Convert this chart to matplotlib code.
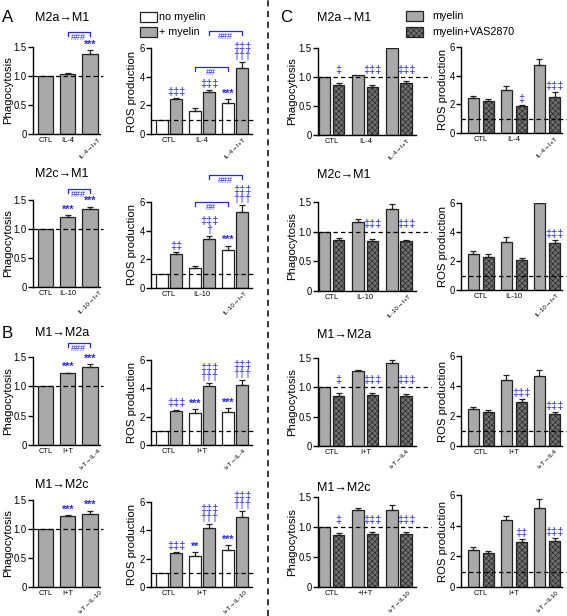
import matplotlib
matplotlib.use("Agg")
import matplotlib.pyplot as plt
import matplotlib.patches as mpatches
from matplotlib.lines import Line2D
from matplotlib import font_manager
import numpy as np

W, H = 567, 616
names = {f.name for f in font_manager.fontManager.ttflist}
NARROW = "Liberation Sans Narrow" in names
FAM = (["Liberation Sans Narrow"] if NARROW else []) + ["Liberation Sans", "DejaVu Sans"]
K = 1.0 if NARROW else 0.86
plt.rcParams.update({"font.family": FAM, "hatch.linewidth": 0.45, "axes.linewidth": 1.0})

BLUE = "#2626e8"
LIGHT = "#a9a9a9"
DARK = "#707070"
EDGE = "#222222"

# ---------------------------------------------------------------- data
titles = ["M2a→M1", "M2c→M1", "M1→M2a", "M1→M2c"]
lab_ab = [["CTL", "IL-4", "IL-4→I+T"], ["CTL", "IL-10", "IL-10→I+T"],
          ["CTL", "I+T", "I+T→IL-4"], ["CTL", "I+T", "I+T→IL-10"]]
lab_c_phag = [["CTL", "IL-4", "IL-4→I+T"], ["CTL", "IL-10", "IL-10→I+T"],
              ["CTL", "I+T", "I+T→IL4"], ["CTL", "+I+T", "I+T→IL10"]]
lab_c_ros = [["CTL", "IL-4", "IL-4→I+T"], ["CTL", "IL-10", "IL-10→I+T"],
             ["CTL", "I+T", "I+T→IL4"], ["CTL", "I+T", "I+T→IL10"]]

# A/B phagocytosis
phag_ab = [[1.00, 1.03, 1.385], [1.00, 1.20, 1.34], [1.00, 1.22, 1.33], [1.00, 1.225, 1.255]]
phag_ab_err = [[0, 0.02, 0.055], [0, 0.04, 0.045], [0, 0.015, 0.045], [0, 0.012, 0.06]]
phag_ab_mk = [["", "", "***"], ["", "***", "***"], ["", "***", "***"], ["", "***", "***"]]
phag_ab_brk = [1.76, 1.69, 1.74, None]

# A/B ROS: no myelin / + myelin
ros_no = [[1.0, 1.61, 2.15], [1.0, 1.40, 2.63], [1.0, 2.24, 2.35], [1.0, 2.16, 2.63]]
ros_no_err = [[0, 0.17, 0.28], [0, 0.10, 0.32], [0, 0.28, 0.24], [0, 0.30, 0.31]]
ros_my = [[2.45, 2.90, 4.60], [2.40, 3.42, 5.28], [2.42, 4.16, 4.24], [2.40, 4.16, 4.94]]
ros_my_err = [[0.06, 0.18, 0.42], [0.08, 0.23, 0.50], [0.08, 0.22, 0.33], [0.07, 0.26, 0.45]]
ros_no_mk = [["", "", "***"], ["", "", "***"], ["", "***", "***"], ["", "**", "***"]]
ros_my_mk = [["‡‡‡", "‡‡‡", "‡‡‡\n†††"], ["‡‡", "‡‡‡\n†", "‡‡‡\n†††"],
             ["‡‡‡", "‡‡‡\n†††", "‡‡‡\n†††"], ["‡‡‡", "‡‡‡\n†††", "‡‡‡\n†††"]]
ros_brk_low = [4.67, 6.0, None, None]
ros_brk_high = [7.2, 7.9, None, None]

# C phagocytosis: myelin / myelin+VAS2870
cphag_my = [[1.0, 1.04, 1.50], [1.0, 1.163, 1.39], [1.0, 1.27, 1.415], [1.0, 1.28, 1.29]]
cphag_my_err = [[0, 0, 0.06], [0, 0.055, 0.07], [0, 0.03, 0.055], [0, 0.03, 0.07]]
cphag_vas = [[0.865, 0.825, 0.895], [0.865, 0.837, 0.843], [0.86, 0.87, 0.856], [0.86, 0.88, 0.88]]
cphag_vas_err = [[0.04, 0.04, 0.04], [0.035, 0.033, 0.012], [0.04, 0.035, 0.035], [0.04, 0.04, 0.04]]
cphag_mk = [["‡", "‡‡‡", "‡‡‡"], ["", "‡‡‡", "‡‡‡"], ["‡", "‡‡‡", "‡‡‡"], ["‡", "‡‡‡", "‡‡‡"]]

# C ROS
cros_my = [[2.42, 3.00, 4.73], [2.49, 3.30, 6.00], [2.44, 4.40, 4.67], [2.44, 4.37, 5.13]]
cros_my_err = [[0.16, 0.28, 0.40], [0.20, 0.35, 0.77], [0.18, 0.33, 0.40], [0.14, 0.28, 0.60]]
cros_vas = [[2.25, 1.85, 2.54], [2.31, 2.08, 3.23], [2.29, 2.96, 2.13], [2.23, 2.95, 3.01]]
cros_vas_err = [[0.11, 0.11, 0.30], [0.16, 0.11, 0.23], [0.11, 0.15, 0.16], [0.13, 0.15, 0.16]]
cros_mk = [["", "‡", "‡‡‡"], ["", "", "‡‡‡"], ["", "‡‡‡", "‡‡‡"], ["", "‡‡", "‡‡‡"]]

# ---------------------------------------------------------------- layout (pixels)
COLX = {"pab": (33, 100), "rab": (151, 252), "pc": (318, 416), "rc": (461, 562)}
ROWY = {"pab": [(47, 134), (200, 287), (357, 445), (500, 587)],
        "rab": [(48, 134), (202, 288), (360, 445), (502, 587)],
        "pc": [(48, 135), (202, 291), (358, 446), (497, 587)],
        "rc": [(47, 133), (203, 290), (356, 446), (495, 587)]}
XLIM = {"pab": (-0.57, 2.45), "rab": (-0.54, 2.51), "pc": (-0.4, 2.5), "rc": (-0.6, 2.45)}
LABX = {"pab": 13, "rab": 137, "pc": 297, "rc": 448}
DASHX = {"pab": 1.04, "rab": 1.03, "pc": 1.15, "rc": 1.05}

fig = plt.figure(figsize=(W / 100, H / 100), dpi=100)


def fx(x):
    return x / W


def fy(y):
    return 1 - y / H


def make_ax(kind, row, labels, ros):
    x0, x1 = COLX[kind]
    y0, y1 = ROWY[kind][row]
    ax = fig.add_axes([fx(x0), fy(y1), (x1 - x0) / W, (y1 - y0) / H])
    ax.spines[["top", "right"]].set_visible(False)
    ax.set_xlim(*XLIM[kind])
    if ros:
        ax.set_ylim(0, 6)
        ax.set_yticks([0, 2, 4, 6], ["0", "2", "4", "6"])
        ax.set_ylabel("ROS production", fontsize=9.5 * K)
    else:
        ax.set_ylim(0, 1.5)
        ax.set_yticks([0, 0.5, 1.0, 1.5], ["0", "0.5", "1.0", "1.5"])
        ax.set_ylabel("Phagocytosis", fontsize=9.5 * K)
    ax.yaxis.set_label_coords((LABX[kind] - x0) / (x1 - x0), 0.5)
    ax.tick_params(axis="y", length=3.5, width=1, labelsize=8 * K, pad=1)
    ax.tick_params(axis="x", length=0, labelsize=6.3 * K, pad=2)
    ax.set_xticks([0, 1, 2])
    tl = ax.set_xticklabels(labels)
    tl[2].set_rotation(45)
    tl[2].set_ha("center")
    tl[2].set_va("top")
    tl[2].set_fontsize(5.4 * K)
    ax.plot([0, DASHX[kind]], [1, 1], transform=ax.get_yaxis_transform(),
            ls=(0, (3.5, 2.5)), color="k", lw=0.9, clip_on=False, zorder=4)
    return ax


def bars(ax, x, vals, errs, width, **kw):
    ax.bar(x, vals, width, edgecolor=EDGE, linewidth=0.9, zorder=2, **kw)
    vals = np.asarray(vals, float)
    errs = np.asarray(errs, float)
    m = errs > 0
    ax.errorbar(x[m], vals[m], yerr=[np.zeros(m.sum()), errs[m]], fmt="none",
                ecolor=EDGE, elinewidth=0.9, capsize=2.2, capthick=0.9, zorder=3)


def marks(ax, x, base, texts):
    for xi, b, s in zip(x, base, texts):
        if not s:
            continue
        star = "*" in s
        ax.annotate(s, (xi, b), xytext=(0, 0.3 if star else 0.8), textcoords="offset points",
                    ha="center", va="bottom", color=BLUE, linespacing=0.85,
                    fontsize=9 * K,
                    fontweight="bold" if star else "normal", annotation_clip=False)


def bracket(ax, x1, x2, y, h, label):
    ax.plot([x1, x1, x2, x2], [y - h, y, y, y - h], color=BLUE, lw=0.9, clip_on=False)
    ax.annotate(label, ((x1 + x2) / 2, y), xytext=(0, -0.6), textcoords="offset points",
                ha="center", va="top", color=BLUE, fontsize=7.5 * K, annotation_clip=False)


x3 = np.arange(3)
OFF_AB, OFF_C = 0.22, 0.21

for r in range(4):
    # ---- A/B phagocytosis
    ax = make_ax("pab", r, lab_ab[r], False)
    bars(ax, x3, phag_ab[r], phag_ab_err[r], 0.68, color=LIGHT)
    tops = np.add(phag_ab[r], phag_ab_err[r])
    marks(ax, x3, tops, phag_ab_mk[r])
    if phag_ab_brk[r] is not None:
        bracket(ax, 1, 2, phag_ab_brk[r], 0.07, "###")

    # ---- A/B ROS
    ax = make_ax("rab", r, lab_ab[r], True)
    xw, xg = x3 - OFF_AB, x3 + OFF_AB
    bars(ax, xw, ros_no[r], ros_no_err[r], 0.36, color="white")
    bars(ax, xg, ros_my[r], ros_my_err[r], 0.36, color=LIGHT)
    marks(ax, xw, np.add(ros_no[r], ros_no_err[r]), ros_no_mk[r])
    marks(ax, xg, np.add(ros_my[r], ros_my_err[r]), ros_my_mk[r])
    if ros_brk_low[r] is not None:
        bracket(ax, xw[1], xw[2], ros_brk_low[r], 0.28, "##")
        bracket(ax, xg[1], xg[2], ros_brk_high[r], 0.28, "###")

    # ---- C phagocytosis
    ax = make_ax("pc", r, lab_c_phag[r], False)
    xa, xb = x3 - OFF_C, x3 + OFF_C
    bars(ax, xa, cphag_my[r], cphag_my_err[r], 0.34, color=LIGHT)
    bars(ax, xb, cphag_vas[r], cphag_vas_err[r], 0.34, color=DARK, hatch="xxxxxx")
    marks(ax, xb, [1.02] * 3, cphag_mk[r])

    # ---- C ROS
    ax = make_ax("rc", r, lab_c_ros[r], True)
    xa, xb = x3 - 0.23, x3 + 0.23
    bars(ax, xa, cros_my[r], cros_my_err[r], 0.34, color=LIGHT)
    bars(ax, xb, cros_vas[r], cros_vas_err[r], 0.34, color=DARK, hatch="xxxxxx")
    marks(ax, xb, np.add(cros_vas[r], cros_vas_err[r]), cros_mk[r])

# ---------------------------------------------------------------- titles, letters
title_y_ab = [18, 174, 333, 485]
title_y_c = [18, 175, 335, 488]
for r in range(4):
    fig.text(fx(35), fy(title_y_ab[r]), titles[r], fontsize=10.5 * K, ha="left", va="center")
    fig.text(fx(317), fy(title_y_c[r]), titles[r], fontsize=10.5 * K, ha="left", va="center")
for letter, (x, y) in {"A": (2, 18), "B": (2, 333), "C": (280, 18)}.items():
    fig.text(fx(x), fy(y), letter, fontsize=14 * K, ha="left", va="center")


# ---------------------------------------------------------------- legends
def legend_entry(x, y, text, gap, **kw):
    fig.add_artist(mpatches.Rectangle((fx(x), fy(y + 4.5)), 17 / W, 9 / H,
                                      transform=fig.transFigure, edgecolor=EDGE,
                                      linewidth=0.9, **kw))
    fig.text(fx(x + gap), fy(y), text, fontsize=9 * K, ha="left", va="center")


legend_entry(140, 17, "no myelin", 19, facecolor="white")
legend_entry(140, 32, "+ myelin", 19, facecolor=LIGHT)
legend_entry(406, 16, "myelin", 26, facecolor=LIGHT)
legend_entry(406, 32, "myelin+VAS2870", 26, facecolor=DARK, hatch="xxxxxx")

# divider
fig.add_artist(Line2D([fx(268)] * 2, [0, 1], transform=fig.transFigure,
                      ls=(0, (4, 3)), color="k", lw=1.1))

fig.savefig("out.png", dpi=100)
